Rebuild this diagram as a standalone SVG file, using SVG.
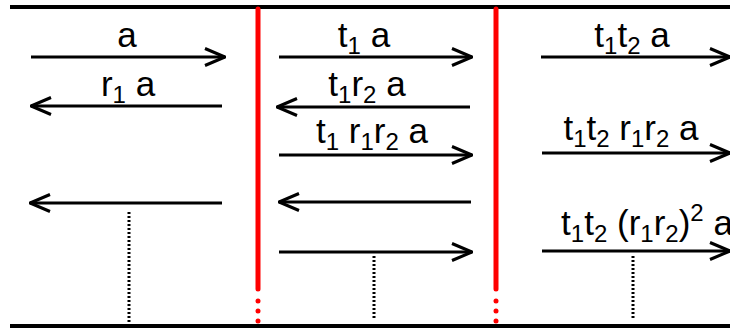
<svg xmlns="http://www.w3.org/2000/svg" width="730" height="330" viewBox="0 0 730 330">
<style>
.bar{stroke:#000;stroke-width:4;fill:none}
.red{stroke:#f00;stroke-width:5;stroke-linecap:round;fill:none}
.dot{fill:#f00}
.ar{stroke:#000;stroke-width:3;fill:none}
.dt{stroke:#000;stroke-width:3;stroke-dasharray:2 2;fill:none}
text{font-family:"Liberation Sans",Arial,sans-serif;font-size:35px;fill:#000;text-anchor:middle}
.s{font-size:24px}
</style>
<defs>
<marker id="h" viewBox="0 0 22 20" refX="21" refY="10" markerWidth="22" markerHeight="20" markerUnits="userSpaceOnUse" orient="auto">
<path d="M1,1.5 L21,10 L1,18.5" fill="none" stroke="#000" stroke-width="3"/>
</marker>
</defs>
<g id="frame">
<line class="bar" x1="10" y1="7" x2="730" y2="7"/>
<line class="bar" x1="10" y1="326" x2="730" y2="326"/>
</g>
<g id="wall1">
<line class="red" x1="258" y1="9" x2="258" y2="289"/>
<circle class="dot" cx="258" cy="301" r="2.5"/>
<circle class="dot" cx="258" cy="311" r="2.5"/>
<circle class="dot" cx="258" cy="321" r="2.5"/>
</g>
<g id="wall2">
<line class="red" x1="496" y1="9" x2="496" y2="289"/>
<circle class="dot" cx="496" cy="301" r="2.5"/>
<circle class="dot" cx="496" cy="311" r="2.5"/>
<circle class="dot" cx="496" cy="321" r="2.5"/>
</g>
<g id="connectors">
<line class="ar" x1="31" y1="57" x2="225" y2="57" marker-end="url(#h)"/>
<line class="ar" x1="222" y1="106" x2="31" y2="106" marker-end="url(#h)"/>
<line class="ar" x1="222" y1="203" x2="30" y2="203" marker-end="url(#h)"/>
<line class="dt" x1="129" y1="212" x2="129" y2="322"/>
<line class="ar" x1="279" y1="57" x2="472" y2="57" marker-end="url(#h)"/>
<line class="ar" x1="470" y1="107" x2="277" y2="107" marker-end="url(#h)"/>
<line class="ar" x1="279" y1="155" x2="472" y2="155" marker-end="url(#h)"/>
<line class="ar" x1="471" y1="202" x2="279" y2="202" marker-end="url(#h)"/>
<line class="ar" x1="279" y1="252" x2="472" y2="252" marker-end="url(#h)"/>
<line class="dt" x1="374" y1="256" x2="374" y2="320"/>
<line class="ar" x1="541" y1="57" x2="730" y2="57" marker-end="url(#h)"/>
<line class="ar" x1="542" y1="153" x2="730" y2="153" marker-end="url(#h)"/>
<line class="ar" x1="542" y1="251" x2="730" y2="251" marker-end="url(#h)"/>
<line class="dt" x1="633" y1="256" x2="633" y2="320"/>
</g>
<g id="labels">
<text x="127" y="47">a</text>
<text x="128" y="96">r<tspan class="s" dy="7">1</tspan><tspan dy="-7"> a</tspan></text>
<text x="364" y="47">t<tspan class="s" dy="7">1</tspan><tspan dy="-7"> a</tspan></text>
<text x="367" y="96">t<tspan class="s" dy="7">1</tspan><tspan dy="-7">r</tspan><tspan class="s" dy="7">2</tspan><tspan dy="-7"> a</tspan></text>
<text x="372" y="143">t<tspan class="s" dy="7">1</tspan><tspan dy="-7"> r</tspan><tspan class="s" dy="7">1</tspan><tspan dy="-7">r</tspan><tspan class="s" dy="7">2</tspan><tspan dy="-7"> a</tspan></text>
<text x="632" y="47">t<tspan class="s" dy="7">1</tspan><tspan dy="-7">t</tspan><tspan class="s" dy="7">2</tspan><tspan dy="-7"> a</tspan></text>
<text x="631" y="140">t<tspan class="s" dy="7">1</tspan><tspan dy="-7">t</tspan><tspan class="s" dy="7">2</tspan><tspan dy="-7"> r</tspan><tspan class="s" dy="7">1</tspan><tspan dy="-7">r</tspan><tspan class="s" dy="7">2</tspan><tspan dy="-7"> a</tspan></text>
<text x="647" y="235">t<tspan class="s" dy="7">1</tspan><tspan dy="-7">t</tspan><tspan class="s" dy="7">2</tspan><tspan dy="-7"> (r</tspan><tspan class="s" dy="7">1</tspan><tspan dy="-7">r</tspan><tspan class="s" dy="7">2</tspan><tspan dy="-7">)</tspan><tspan class="s" dy="-14">2</tspan><tspan dy="14"> a</tspan></text>
</g>
</svg>
